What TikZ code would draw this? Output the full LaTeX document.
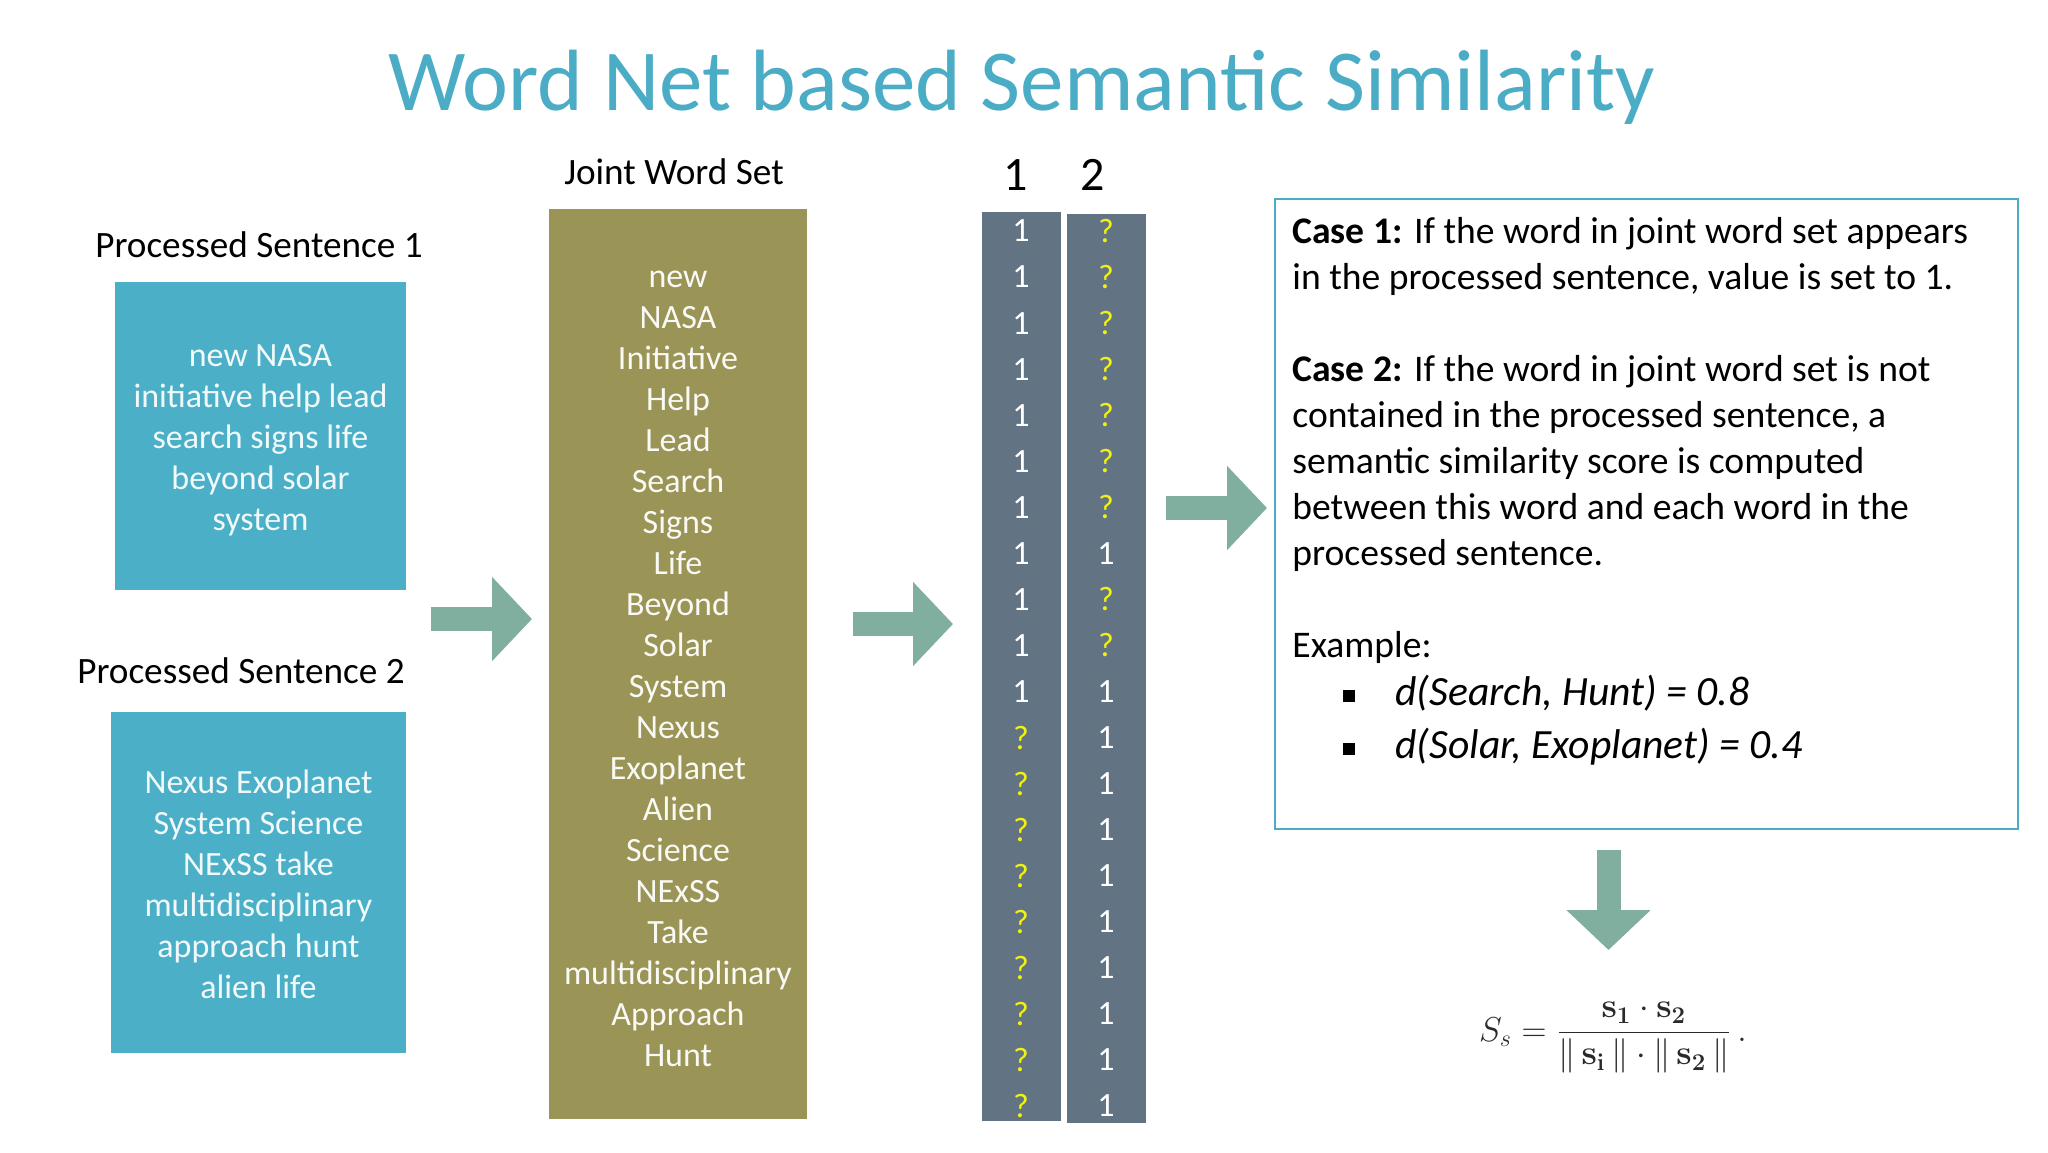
\documentclass[tikz,border=0pt]{standalone}
\usepackage[no-math]{fontspec}
\setmainfont{Carlito}
\usetikzlibrary{arrows.meta,positioning}
\definecolor{titleblue}{HTML}{4BACC6}
\definecolor{sentblue}{HTML}{4BAFC7}
\definecolor{olivebox}{HTML}{9A9456}
\definecolor{slatecol}{HTML}{627384}
\definecolor{arrowgreen}{HTML}{80AE9F}
\definecolor{qyellow}{HTML}{F0F012}
\definecolor{mathgray}{HTML}{2A2A2A}
\newcommand{\qm}{\textcolor{qyellow}{?}}
\newcommand{\sqbullet}{\makebox[25.5pt][l]{}\makebox[26pt][l]{\raisebox{2pt}{\rule{6pt}{6pt}}}}
\tikzset{
heading/.style={font=\fontsize{18.6}{21}\selectfont, text=black, anchor=base, inner sep=0pt},
sentbox/.style={fill=sentblue, text=white!92!sentblue, align=center, font=\fontsize{17}{20.5}\selectfont, inner sep=0pt},
wordbox/.style={fill=olivebox, text=white!94!olivebox, align=center, font=\fontsize{17}{20.5}\selectfont, inner sep=0pt},
colbox/.style={fill=slatecol, minimum width=39.5pt, minimum height=454.5pt, inner sep=0pt},
cell/.style={text=white, font=\fontsize{17}{20}\selectfont, inner sep=0pt},
casebox/.style={draw=titleblue, line width=1pt, minimum width=371.5pt, minimum height=315pt, inner sep=0pt},
casetext/.style={align=left, font=\fontsize{18.8}{23}\selectfont, inner sep=0pt, anchor=north west},
blockarr/.style={draw=arrowgreen, line width=12pt, -{Triangle[length=20pt, width=41pt, fill=arrowgreen]}}
}

\begin{document}
\begin{tikzpicture}[x=0.5pt, y=-0.5pt]
\useasboundingbox (0,0) rectangle (2048,1152);
\fill[white] (0,0) rectangle (2048,1152);
% title
\node[anchor=base, inner sep=0pt, text=titleblue, font=\fontsize{43.5}{48}\selectfont] (title) at (1022,110) {Word Net based Semantic Similarity};
% processed sentences
\node[heading] (head1) at (259,257) {Processed Sentence 1};
\node[sentbox, minimum width=145.5pt, minimum height=154pt] (sent1) at (260.5,436) {};
\node[sentbox, align=center] (sent1txt) at (260.5,440) {new NASA\\initiative help lead\\search signs life\\beyond solar\\system};
\node[heading] (head2) at (241,683) {Processed Sentence 2};
\node[sentbox, minimum width=147.5pt, minimum height=170.5pt] (sent2) at (258.5,882.5) {};
\node[sentbox, align=center] (sent2txt) at (258.5,884) {Nexus Exoplanet\\System Science\\NExSS take\\multidisciplinary\\approach hunt\\alien life};
% joint word set
\node[heading] (headjoint) at (674,184) {Joint Word Set};
\node[wordbox, minimum width=129pt, minimum height=455pt] (joint) at (678,664) {};
\node[wordbox] (jointtxt) at (678,669) {new\\NASA\\Initiative\\Help\\Lead\\Search\\Signs\\Life\\Beyond\\Solar\\System\\Nexus\\Exoplanet\\Alien\\Science\\NExSS\\Take\\multidisciplinary\\Approach\\Hunt};
% vectors
\node[colbox] (vec1) at (1021.5,666.5) {};
\node[colbox] (vec2) at (1106.5,668) {};
\node[heading, font=\fontsize{24}{28}\selectfont] (num1) at (1016,190) {1};
\node[heading, font=\fontsize{24}{28}\selectfont] (num2) at (1093,190) {2};
\foreach \a/\b [count=\i] in {1/\qm,1/\qm,1/\qm,1/\qm,1/\qm,1/\qm,1/\qm,1/1,1/\qm,1/\qm,1/1,\qm/1,\qm/1,\qm/1,\qm/1,\qm/1,\qm/1,\qm/1,\qm/1,\qm/1}
{
\node[cell] (v1-\i) at (1021,231+46.05*\i-46.05) {\a};
\node[cell] (v2-\i) at (1106,231+46.05*\i-46.05) {\b};
}
% cases
\node[casebox] (cases) at (1646.5,514) {};
\node[casetext] (casetxt) at (1292,217) {\textbf{Case 1:} If the word in joint word set appears\\
in the processed sentence, value is set to 1.\\[23pt]
\textbf{Case 2:} If the word in joint word set is not\\
contained in the processed sentence, a\\
semantic similarity score is computed\\
between this word and each word in the\\
processed sentence.\\[23pt]
Example:\\[1pt]
\sqbullet{\fontsize{20.8}{23}\selectfont\itshape d(Search, Hunt) = 0.8}\\[3.5pt]
\sqbullet{\fontsize{20.8}{23}\selectfont\itshape d(Solar, Exoplanet) = 0.4}};
% formula
\node[text=mathgray, font=\fontsize{18.5}{22}\selectfont, inner sep=0pt] (formula) at (1613,1038) {$S_s=\displaystyle\frac{\mathbf{s}_{\mathbf{1}}\cdot\mathbf{s}_{\mathbf{2}}}{\|\,\mathbf{s}_{\mathbf{i}}\,\|\cdot\|\,\mathbf{s}_{\mathbf{2}}\,\|}\,.$};
% arrows
\coordinate (a1s) at (431,619);
\coordinate (a1e) at (532,619);
\coordinate (a2s) at (853,624);
\coordinate (a2e) at (953,624);
\coordinate (a3s) at (1166,508);
\coordinate (a3e) at (1267,508);
\coordinate (a4s) at (1608.5,850);
\coordinate (a4e) at (1608.5,950);
\foreach \s/\e in {a1s/a1e, a2s/a2e, a3s/a3e, a4s/a4e}
\draw[blockarr] (\s) -- (\e);
\end{tikzpicture}
\end{document}
